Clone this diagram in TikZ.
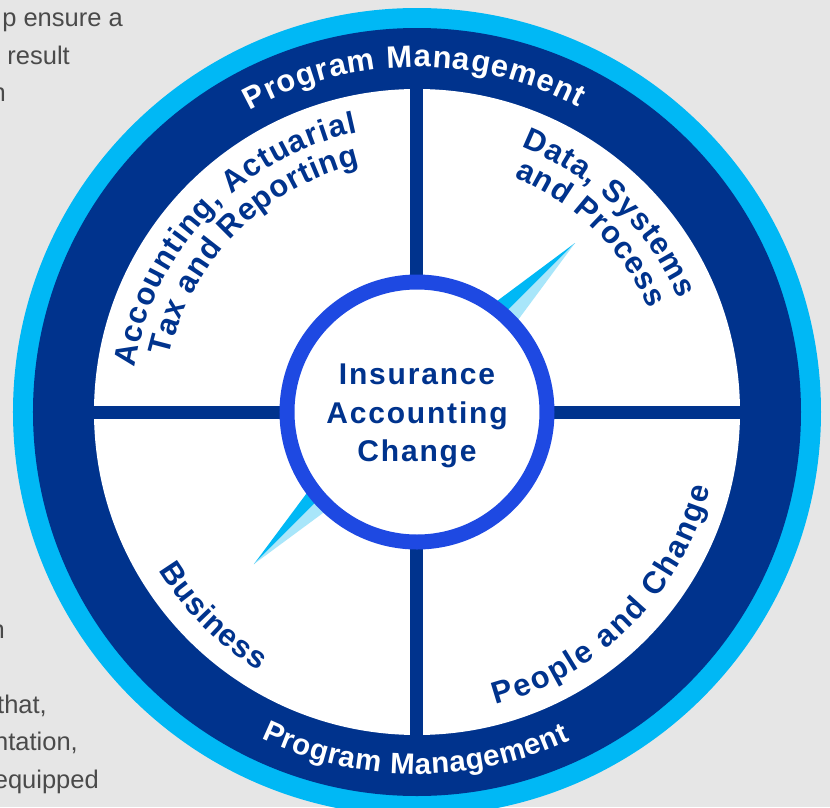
\documentclass[tikz,border=0pt]{standalone}
\usepackage{fontspec}
\setmainfont{Liberation Sans}
\usetikzlibrary{decorations.text}

\definecolor{paper}{HTML}{E6E6E6}
\definecolor{navy}{HTML}{00338D}
\definecolor{sky}{HTML}{00B8F5}
\definecolor{pale}{HTML}{A8E6FA}
\definecolor{cobalt}{HTML}{1E49E2}
\definecolor{ink}{HTML}{4A4A4A}

\newcommand{\ringfont}{\bfseries\fontsize{31}{33}\selectfont}
\newcommand{\lowfont}{\bfseries\fontsize{29.5}{31}\selectfont}

\begin{document}
\begin{tikzpicture}[x=1pt, y=1pt,
    para/.style={anchor=base east, inner sep=0, text=ink, font=\fontsize{25.5}{30}\selectfont},
    spoke/.style={draw=navy, line width=13pt},
    onband/.style={decorate, decoration={text along path, text align={fit to path}, text color=white, text={|\ringfont|#1}}},
    underband/.style={decorate, decoration={text along path, text align={fit to path}, text color=white, text={|\lowfont|#1}}},
    inwheel/.style={decorate, decoration={text along path, text align={fit to path}, text color=navy, text={|\ringfont|#1}}}
]

    \useasboundingbox (-417,-395) rectangle (413,412);
    \fill[paper] (-417,-395) rectangle (413,412);

    \coordinate (O) at (0,0);

    \node[para] (line1) at (-294,385.3) {p ensure a};
    \node[para] (line2) at (-347,348) {result};
    \node[para] (line3) at (-411,310.3) {n};
    \node[para] (line4) at (-412,-226) {n};
    \node[para] (line5) at (-370,-301) {that,};
    \node[para] (line6) at (-339,-338.5) {ntation,};
    \node[para] (line7) at (-318,-376) {equipped};

    \fill[sky] (O) circle (404);
    \fill[navy] (O) circle (384);
    \fill[white] (O) circle (323);

    \foreach \a in {0,90,180,270}
        \draw[spoke] (O) -- (\a:330);

    % needle, split along its axis
    \coordinate (tipA) at (158,169);
    \coordinate (tipB) at (-163,-152);
    \fill[sky] (tipA) -- (-26,32) -- (tipB) -- cycle;
    \fill[pale] (tipA) -- (21,-16) -- (tipB) -- cycle;

    \node[circle, draw=cobalt, line width=15pt, fill=white, minimum size=260pt, inner sep=0] (core) at (O) {};
    \node[align=center, text=navy, font=\bfseries\fontsize{30}{38.5}\selectfont\addfontfeature{LetterSpace=6}] (title) at (0,-4) {Insurance\\Accounting\\Change};

    \path[onband={Program Management}] (119:345) arc[start angle=119, end angle=62, radius=345];
    \path[underband={Program Management}] (244.5:362) arc[start angle=244.5, end angle=295, radius=362];

    \path[inwheel={Accounting, Actuarial}] (171:286) arc[start angle=171, end angle=102, radius=286];
    \path[inwheel={Tax and Reporting}] (167.4:254) arc[start angle=167.4, end angle=103, radius=254];
    \path[inwheel={Data, Systems}] (68.6:285) arc[start angle=68.6, end angle=23.3, radius=285];
    \path[inwheel={and Process}] (67.5:254) arc[start angle=67.5, end angle=24, radius=254];
    \path[inwheel={Business}] (211.5:303) arc[start angle=211.5, end angle=238.5, radius=303];
    \path[inwheel={People and Change}] (285:303) arc[start angle=285, end angle=345.5, radius=303];

\end{tikzpicture}
\end{document}
